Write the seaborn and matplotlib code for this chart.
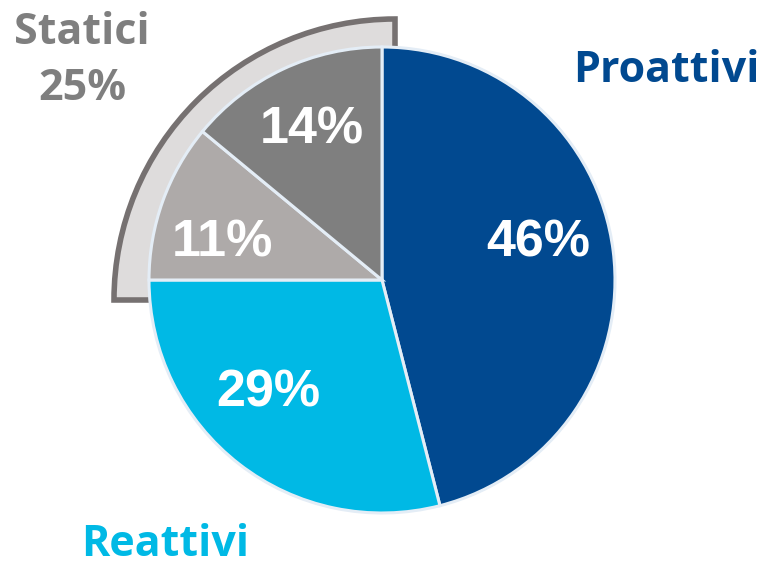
import matplotlib
matplotlib.use("Agg")
import matplotlib.pyplot as plt
from matplotlib.patches import Wedge
import seaborn as sns

# Data
categories = ["Proattivi", "Reattivi", "Statici (11%)", "Statici (14%)"]
values = [46, 29, 11, 14]
slice_labels = ["46%", "29%", "11%", "14%"]
group_labels = ["Proattivi", "Reattivi", "Statici", "25%"]

sns.set_theme(style="white")
plt.rcParams['font.family'] = ['Liberation Sans', 'DejaVu Sans']

colors = ["#014990", "#00b9e5", "#aeaaa9", "#7f7f7f"]

W, H = 767, 566
fig = plt.figure(figsize=(W / 100, H / 100), dpi=100)
ax = fig.add_axes([0, 0, 1, 1])
ax.set_xlim(0, W)
ax.set_ylim(0, H)
ax.set_aspect("equal")
ax.axis("off")

cx, cy, r = 382, H - 280, 233

# Background band behind the "Statici" slices
band = Wedge((395, H - 300), 281, 90, 180, facecolor="#dedcdc",
             edgecolor="#767171", linewidth=4, joinstyle="miter", zorder=1)
ax.add_patch(band)

ax.pie(values, colors=colors, startangle=90, counterclock=False,
       center=(cx, cy), radius=r, frame=True,
       wedgeprops=dict(edgecolor="#e4edf6", linewidth=2.2, zorder=2))
ax.set_xlim(0, W)
ax.set_ylim(0, H)
ax.axis("off")

pct_pos = [(538, 243), (268, 393), (222, 243), (312, 130)]
for lab, (x, y) in zip(slice_labels, pct_pos):
    ax.text(x, H - y, lab, color="white", fontsize=37.5, fontweight="bold",
            ha="center", va="center", zorder=5)

lab_font = ['Open Sans', 'DejaVu Sans']
ax.text(666, H - 70, group_labels[0], color="#014990", fontsize=31,
        fontweight="bold", ha="center", va="center", family=lab_font)
ax.text(165, H - 545, group_labels[1], color="#00b9e5", fontsize=31,
        fontweight="bold", ha="center", va="center", family=lab_font)
ax.text(82, H - 32, group_labels[2], color="#7f7f7f", fontsize=31,
        fontweight="bold", ha="center", va="center", family=lab_font)
ax.text(82, H - 88, group_labels[3], color="#7f7f7f", fontsize=31,
        fontweight="bold", ha="center", va="center", family=lab_font)

fig.savefig("out.png", dpi=100)
